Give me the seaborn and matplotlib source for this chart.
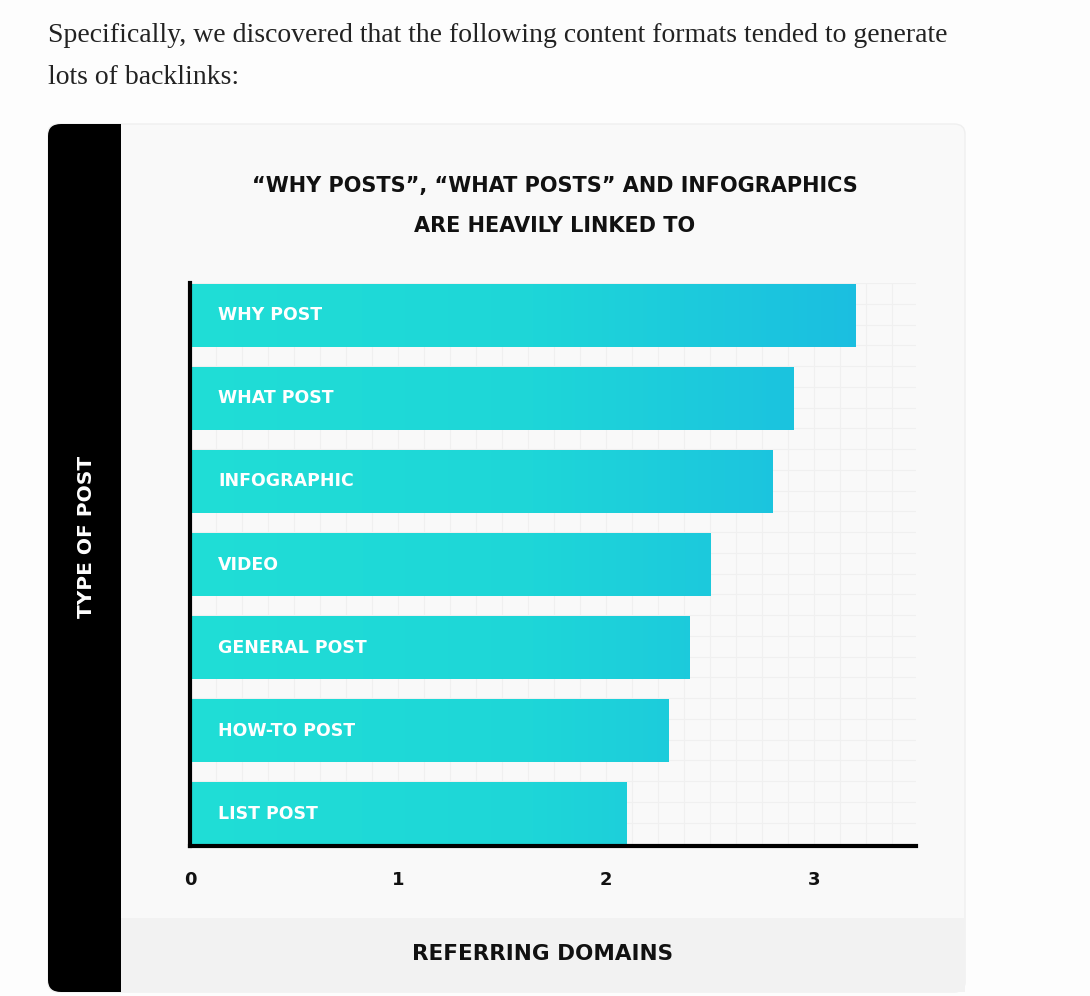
import numpy as np
import pandas as pd
import matplotlib
matplotlib.use("Agg")
import matplotlib.pyplot as plt
from matplotlib.patches import FancyBboxPatch, Rectangle
from matplotlib.colors import LinearSegmentedColormap
import seaborn as sns

# data
post_types = ["WHY POST", "WHAT POST", "INFOGRAPHIC", "VIDEO",
              "GENERAL POST", "HOW-TO POST", "LIST POST"]
referring_domains = [3.2, 2.9, 2.8, 2.5, 2.4, 2.3, 2.1]
x_ticks = [0, 1, 2, 3]

df = pd.DataFrame({"type": post_types, "domains": referring_domains})

sns.set_theme(style="white")
plt.rcParams["font.family"] = ["DejaVu Sans"]

W, H = 1090, 996
fig = plt.figure(figsize=(W / 100, H / 100), dpi=100)
fig.patch.set_facecolor("#fdfdfd")

def fx(px):
    return px / W

def fy(py):
    return 1 - py / H

# card background, black strip and grey footer
fig.patches.append(FancyBboxPatch((fx(48), fy(992)), fx(965) - fx(48), fy(124) - fy(992),
                                  boxstyle="round,pad=0,rounding_size=0.01",
                                  transform=fig.transFigure, facecolor="#f9f9f9",
                                  edgecolor="#efefef", lw=1, zorder=0))
fig.patches.append(FancyBboxPatch((fx(48), fy(992)), fx(121) - fx(48), fy(124) - fy(992),
                                  boxstyle="round,pad=0,rounding_size=0.012",
                                  transform=fig.transFigure, facecolor="black",
                                  edgecolor="none", zorder=1))
fig.patches.append(Rectangle((fx(100), fy(992)), fx(121) - fx(100), fy(124) - fy(992),
                             transform=fig.transFigure, facecolor="black",
                             edgecolor="none", zorder=1))
fig.patches.append(Rectangle((fx(121), fy(992)), fx(965) - fx(121), fy(918) - fy(992),
                             transform=fig.transFigure, facecolor="#f2f2f2",
                             edgecolor="none", zorder=1))

# intro text
fig.text(fx(48), fy(35), "Specifically, we discovered that the following content formats tended to generate",
         family="Liberation Serif", fontsize=20, color="#222222", va="center", ha="left")
fig.text(fx(48), fy(78), "lots of backlinks:",
         family="Liberation Serif", fontsize=20, color="#222222", va="center", ha="left")

# titles
fig.text(fx(555), fy(186), "\u201cWHY POSTS\u201d, \u201cWHAT POSTS\u201d AND INFOGRAPHICS",
         fontsize=15, fontweight="bold", color="#111111", ha="center", va="center", zorder=3)
fig.text(fx(555), fy(226), "ARE HEAVILY LINKED TO",
         fontsize=15, fontweight="bold", color="#111111", ha="center", va="center", zorder=3)
fig.text(fx(86), fy(537), "TYPE OF POST", rotation=90, fontsize=14.5, fontweight="bold",
         color="white", ha="center", va="center", zorder=3)
fig.text(fx(543), fy(954), "REFERRING DOMAINS", fontsize=15.5, fontweight="bold",
         color="#111111", ha="center", va="center", zorder=3)

ax = fig.add_axes([fx(190), fy(846), fx(916) - fx(190), fy(283) - fy(846)])
ax.set_facecolor("none")
ax.set_zorder(5)

sns.barplot(data=df, x="domains", y="type", orient="h", width=0.76,
            color="#1fdcd5", ax=ax, zorder=3)

# faint grid
for gx in np.arange(0, 3.5, 0.125):
    ax.axvline(gx, color="#f0f0f0", lw=0.8, zorder=1)
for gy in np.arange(-0.39, 6.4, 0.25):
    ax.axhline(gy, color="#f0f0f0", lw=0.8, zorder=1)

# gradient fill for each bar
cmap = LinearSegmentedColormap.from_list("cyan", ["#20ded6", "#1ed6d8", "#1bbde1"])
grad = np.linspace(0, 1, 256).reshape(1, -1)
for patch in ax.patches:
    patch.set_facecolor("none")
    patch.set_edgecolor("none")
    im = ax.imshow(grad, cmap=cmap, aspect="auto", extent=[0, 3.3, 6.39, -0.39],
                   zorder=3, interpolation="bicubic")
    im.set_clip_path(patch)
ax.set_xlim(0, 3.49)
ax.set_ylim(6.39, -0.39)

# labels inside bars
for i, name in enumerate(post_types):
    ax.text(0.135, i, name, color="white", fontsize=12.5, fontweight="bold",
            ha="left", va="center", zorder=5)

ax.set_yticks([])
ax.set_xticks(x_ticks)
ax.set_xticklabels([str(t) for t in x_ticks], fontsize=13, fontweight="bold", color="#111111")
ax.tick_params(axis="x", length=0, pad=18)
ax.set_xlabel("")
ax.set_ylabel("")

for side in ["top", "right"]:
    ax.spines[side].set_visible(False)
ax.spines["left"].set_color("black")
ax.spines["left"].set_linewidth(3)
ax.spines["bottom"].set_color("black")
ax.spines["bottom"].set_linewidth(3)
ax.spines["left"].set_zorder(6)
ax.spines["bottom"].set_zorder(6)

fig.savefig("out.png", dpi=100, facecolor=fig.get_facecolor())
